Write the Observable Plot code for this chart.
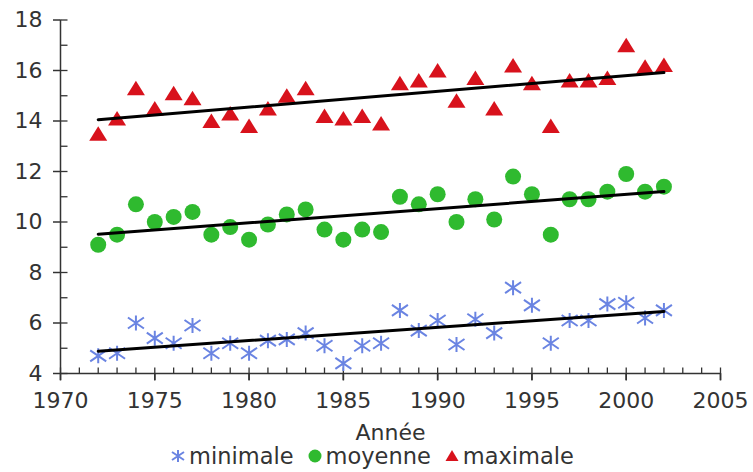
<!DOCTYPE html>
<html>
<head>
<meta charset="utf-8">
<script src="https://cdn.jsdelivr.net/npm/d3@7"></script>
<script src="https://cdn.jsdelivr.net/npm/@observablehq/plot@0.6"></script>
<style>
  html, body { margin: 0; padding: 0; background: white; }
  #wrap { position: relative; width: 753px; height: 472px; overflow: hidden; }
  #legend { position: absolute; left: 0; top: 444px; width: 745px; height: 28px;
    display: flex; justify-content: center; align-items: flex-start;
    font-family: "DejaVu Sans"; font-size: 22.5px; line-height: 24px; color: #333; }
  #legend .item { display: flex; align-items: center; margin: 0 7px; }
  #legend svg { margin-right: 4px; }
</style>
</head>
<body>
<div id="wrap"><div id="chart"></div><div id="legend"></div></div>
<script>
const years = [1972, 1973, 1974, 1975, 1976, 1977, 1978, 1979, 1980, 1981, 1982, 1983, 1984, 1985, 1986, 1987,
  1988, 1989, 1990, 1991, 1992, 1993, 1994, 1995, 1996, 1997, 1998, 1999, 2000, 2001, 2002];
const minimale = [4.7, 4.8, 6.0, 5.4, 5.2, 5.9, 4.8, 5.2, 4.8, 5.3, 5.35, 5.6, 5.1, 4.4, 5.1, 5.2,
  6.5, 5.7, 6.1, 5.15, 6.15, 5.6, 7.4, 6.7, 5.2, 6.1, 6.1, 6.75, 6.8, 6.2, 6.5];
const moyenne = [9.1, 9.5, 10.7, 10.0, 10.2, 10.4, 9.5, 9.8, 9.3, 9.9, 10.3, 10.5, 9.7, 9.3, 9.7, 9.6,
  11.0, 10.7, 11.1, 10.0, 10.9, 10.1, 11.8, 11.1, 9.5, 10.9, 10.9, 11.2, 11.9, 11.2, 11.4];
const maximale = [13.5, 14.1, 15.3, 14.5, 15.1, 14.9, 14.0, 14.3, 13.8, 14.5, 15.0, 15.3, 14.2, 14.1, 14.2, 13.9,
  15.5, 15.6, 16.0, 14.8, 15.7, 14.5, 16.2, 15.5, 13.8, 15.6, 15.6, 15.7, 17.0, 16.15, 16.22];
const seriesNames = ["minimale", "moyenne", "maximale"];
const xTicks = [1970, 1975, 1980, 1985, 1990, 1995, 2000, 2005];
const xMinorTicks = [1970, 1971, 1972, 1973, 1974, 1975, 1976, 1977, 1978, 1979, 1980, 1981, 1982, 1983, 1984, 1985,
  1986, 1987, 1988, 1989, 1990, 1991, 1992, 1993, 1994, 1995, 1996, 1997, 1998, 1999, 2000, 2001, 2002, 2003, 2004, 2005];
const yTicks = [4, 6, 8, 10, 12, 14, 16, 18];
const yMinorTicks = [4, 5, 6, 7, 8, 9, 10, 11, 12, 13, 14, 15, 16, 17, 18];
const xLabel = "Année";

const colors = {minimale: "#6a84e2", moyenne: "#2fba2f", maximale: "#d8121c"};

const rowsMin = years.map((y, i) => ({year: y, value: minimale[i]}));
const rowsMoy = years.map((y, i) => ({year: y, value: moyenne[i]}));
const rowsMax = years.map((y, i) => ({year: y, value: maximale[i]}));

const asteriskSym = {draw(c) {
  c.moveTo(-8, -5.5); c.lineTo(8, 5.5);
  c.moveTo(-8, 5.5); c.lineTo(8, -5.5);
  c.moveTo(0, -7.5); c.lineTo(0, 7.5);
}};
const triangleSym = {draw(c) {
  c.moveTo(0, -7.5); c.lineTo(9, 7); c.lineTo(-9, 7); c.closePath();
}};
const tickUp = {draw(c) { c.moveTo(0, 0); c.lineTo(0, -6); }};
const tickDown = {draw(c) { c.moveTo(0, 0); c.lineTo(0, 7); }};
const tickRight = {draw(c) { c.moveTo(0, 0); c.lineTo(7, 0); }};

const axisColor = "#333";

const chart = Plot.plot({
  width: 753,
  height: 444,
  marginTop: 19.5,
  marginBottom: 71,
  marginLeft: 60,
  marginRight: 33,
  x: {domain: [xTicks[0], xTicks[xTicks.length - 1]]},
  y: {domain: [yTicks[0], yTicks[yTicks.length - 1]]},
  style: {fontFamily: "DejaVu Sans", fontSize: "22px", color: axisColor, background: "white"},
  marks: [
    Plot.ruleY([yTicks[0]], {stroke: axisColor, strokeWidth: 1.5}),
    Plot.ruleX([xTicks[0]], {stroke: axisColor, strokeWidth: 1.5}),
    Plot.axisX({ticks: xTicks, tickSize: 7, tickPadding: 12, tickFormat: d => String(d), fontSize: 22, label: null, strokeWidth: 1.5}),
    Plot.axisY({ticks: yTicks, tickSize: 7, tickPadding: 11, tickFormat: d => String(d), fontSize: 22, label: null, strokeWidth: 1.5}),
    Plot.dot(xTicks, {x: d => d, frameAnchor: "bottom", symbol: tickDown, stroke: axisColor, fill: "none", strokeWidth: 1.5}),
    Plot.dot(xMinorTicks, {x: d => d, frameAnchor: "bottom", symbol: tickUp, stroke: axisColor, fill: "none", strokeWidth: 1.3}),
    Plot.dot(yMinorTicks, {y: d => d, frameAnchor: "left", symbol: tickRight, stroke: axisColor, fill: "none", strokeWidth: 1.3}),
    Plot.text([xLabel], {text: d => d, frameAnchor: "bottom", dy: 66, fontSize: 22, fill: axisColor}),
    Plot.dot(rowsMin, {x: "year", y: "value", symbol: asteriskSym, stroke: colors.minimale, fill: "none", strokeWidth: 2}),
    Plot.dot(rowsMoy, {x: "year", y: "value", r: 8, fill: colors.moyenne, stroke: "none"}),
    Plot.dot(rowsMax, {x: "year", y: "value", symbol: triangleSym, fill: colors.maximale, stroke: "none"}),
    Plot.linearRegressionY(rowsMin, {x: "year", y: "value", stroke: "black", strokeWidth: 3, ci: 0}),
    Plot.linearRegressionY(rowsMoy, {x: "year", y: "value", stroke: "black", strokeWidth: 3, ci: 0}),
    Plot.linearRegressionY(rowsMax, {x: "year", y: "value", stroke: "black", strokeWidth: 3, ci: 0})
  ]
});
document.getElementById("chart").appendChild(chart);

// Legend
const legendSymbols = {
  minimale: '<svg width="14" height="16" viewBox="-7 -8 14 16"><path d="M-6,-4L6,4M-6,4L6,-4M0,-6L0,6" stroke="' + colors.minimale + '" stroke-width="2" fill="none"/></svg>',
  moyenne: '<svg width="14" height="16" viewBox="-7 -8 14 16"><circle r="6.5" fill="' + colors.moyenne + '"/></svg>',
  maximale: '<svg width="14" height="16" viewBox="-7 -8 14 16"><path d="M0,-6L6.5,5L-6.5,5Z" fill="' + colors.maximale + '"/></svg>'
};
const legend = document.getElementById("legend");
for (const name of seriesNames) {
  const item = document.createElement("div");
  item.className = "item";
  item.innerHTML = legendSymbols[name] + "<span>" + name + "</span>";
  legend.appendChild(item);
}
</script>
</body>
</html>
